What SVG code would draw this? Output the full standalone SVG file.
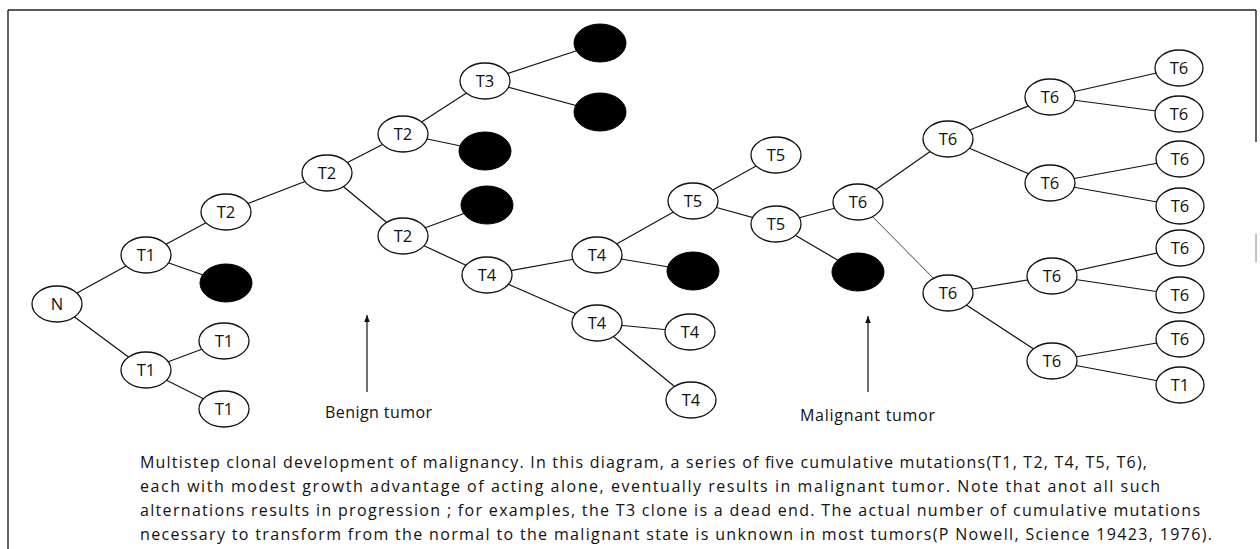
<svg xmlns="http://www.w3.org/2000/svg" width="1260" height="549" viewBox="0 0 1260 549">
<style>
.node ellipse{fill:#fff;stroke:#111;stroke-width:1.3}
.dead ellipse{fill:#000;stroke:#000;stroke-width:1}
.node text{font-family:"Open Sans","Lato","DejaVu Sans",sans-serif;font-size:16.5px;text-anchor:middle;fill:#111}
.edges line{stroke:#111;stroke-width:1.2}
.frame{stroke:#222;stroke-width:1.4;fill:none}
.lbl{font-family:"Open Sans","Lato","DejaVu Sans",sans-serif;font-size:16px;fill:#111}
.cap{font-family:"Open Sans","Lato","DejaVu Sans",sans-serif;font-size:16px;fill:#111}
.arrow{stroke:#111;stroke-width:1.3}
</style>
<defs>
<marker id="ah" viewBox="0 0 10 8" refX="10" refY="4" markerWidth="7" markerHeight="6" markerUnits="userSpaceOnUse" orient="auto">
<path d="M0,0 L10,4 L0,8 z" fill="#111"/>
</marker>
</defs>
<rect width="1260" height="549" fill="#fff"/>
<g id="frame">
<line class="frame" x1="8" y1="10" x2="1256" y2="10"/>
<line class="frame" x1="8" y1="10" x2="8" y2="549"/>
<line class="frame" x1="1256" y1="10" x2="1256" y2="142"/>
<line x1="1256" y1="234" x2="1256" y2="262" stroke="#999" stroke-width="1.2"/>
</g>
<g id="connectors" class="edges">
<line x1="57" y1="304" x2="146" y2="255"/>
<line x1="57" y1="304" x2="146" y2="370"/>
<line x1="146" y1="255" x2="226" y2="212"/>
<line x1="146" y1="255" x2="226" y2="283"/>
<line x1="146" y1="370" x2="224" y2="341"/>
<line x1="146" y1="370" x2="224" y2="409"/>
<line x1="226" y1="212" x2="327" y2="173"/>
<line x1="327" y1="173" x2="403" y2="134"/>
<line x1="327" y1="173" x2="403" y2="236"/>
<line x1="403" y1="134" x2="485" y2="81"/>
<line x1="403" y1="134" x2="485" y2="151"/>
<line x1="485" y1="81" x2="600" y2="43"/>
<line x1="485" y1="81" x2="600" y2="112"/>
<line x1="403" y1="236" x2="487" y2="205"/>
<line x1="403" y1="236" x2="487" y2="275"/>
<line x1="487" y1="275" x2="597" y2="255"/>
<line x1="487" y1="275" x2="597" y2="323"/>
<line x1="597" y1="255" x2="693" y2="201"/>
<line x1="597" y1="255" x2="693" y2="271"/>
<line x1="597" y1="323" x2="690" y2="332"/>
<line x1="597" y1="323" x2="691" y2="400"/>
<line x1="693" y1="201" x2="776" y2="155"/>
<line x1="693" y1="201" x2="776" y2="224"/>
<line x1="776" y1="224" x2="858" y2="202"/>
<line x1="776" y1="224" x2="858" y2="272"/>
<line x1="858" y1="202" x2="948" y2="139"/>
<line x1="858" y1="202" x2="948" y2="293" style="stroke-width:0.8"/>
<line x1="948" y1="139" x2="1050" y2="97"/>
<line x1="948" y1="139" x2="1050" y2="183"/>
<line x1="948" y1="293" x2="1052" y2="276"/>
<line x1="948" y1="293" x2="1052" y2="361"/>
<line x1="1050" y1="97" x2="1179" y2="68"/>
<line x1="1050" y1="97" x2="1179" y2="114"/>
<line x1="1050" y1="183" x2="1180" y2="159"/>
<line x1="1050" y1="183" x2="1180" y2="206"/>
<line x1="1052" y1="276" x2="1180" y2="248"/>
<line x1="1052" y1="276" x2="1180" y2="295"/>
<line x1="1052" y1="361" x2="1180" y2="339"/>
<line x1="1052" y1="361" x2="1180" y2="385"/>
<line class="arrow" x1="367" y1="392" x2="367" y2="315" marker-end="url(#ah)"/>
<line class="arrow" x1="868" y1="392" x2="868" y2="316" marker-end="url(#ah)"/>
</g>
<g id="N" class="node"><ellipse cx="57" cy="304" rx="25" ry="18"/><text x="57" y="310">N</text></g>
<g id="T1a" class="node"><ellipse cx="146" cy="255" rx="25" ry="18"/><text x="146" y="261">T1</text></g>
<g id="T1b" class="node"><ellipse cx="146" cy="370" rx="25" ry="18"/><text x="146" y="376">T1</text></g>
<g id="D0" class="node dead"><ellipse cx="226" cy="283" rx="26" ry="19"/></g>
<g id="T1c" class="node"><ellipse cx="224" cy="341" rx="25" ry="18"/><text x="224" y="347">T1</text></g>
<g id="T1d" class="node"><ellipse cx="224" cy="409" rx="25" ry="18"/><text x="224" y="415">T1</text></g>
<g id="T2a" class="node"><ellipse cx="226" cy="212" rx="25" ry="18"/><text x="226" y="218">T2</text></g>
<g id="T2b" class="node"><ellipse cx="327" cy="173" rx="25" ry="18"/><text x="327" y="179">T2</text></g>
<g id="T2c" class="node"><ellipse cx="403" cy="134" rx="25" ry="18"/><text x="403" y="140">T2</text></g>
<g id="T2d" class="node"><ellipse cx="403" cy="236" rx="25" ry="18"/><text x="403" y="242">T2</text></g>
<g id="T3" class="node"><ellipse cx="485" cy="81" rx="25" ry="18"/><text x="485" y="87">T3</text></g>
<g id="D1" class="node dead"><ellipse cx="600" cy="43" rx="26" ry="19"/></g>
<g id="D2" class="node dead"><ellipse cx="600" cy="112" rx="26" ry="19"/></g>
<g id="D3" class="node dead"><ellipse cx="485" cy="151" rx="26" ry="19"/></g>
<g id="D4" class="node dead"><ellipse cx="487" cy="205" rx="26" ry="19"/></g>
<g id="T4a" class="node"><ellipse cx="487" cy="275" rx="25" ry="18"/><text x="487" y="281">T4</text></g>
<g id="T4b" class="node"><ellipse cx="597" cy="255" rx="25" ry="18"/><text x="597" y="261">T4</text></g>
<g id="T4c" class="node"><ellipse cx="597" cy="323" rx="25" ry="18"/><text x="597" y="329">T4</text></g>
<g id="T4d" class="node"><ellipse cx="690" cy="332" rx="25" ry="18"/><text x="690" y="338">T4</text></g>
<g id="T4e" class="node"><ellipse cx="691" cy="400" rx="25" ry="18"/><text x="691" y="406">T4</text></g>
<g id="D5" class="node dead"><ellipse cx="693" cy="271" rx="26" ry="19"/></g>
<g id="T5a" class="node"><ellipse cx="693" cy="201" rx="25" ry="18"/><text x="693" y="207">T5</text></g>
<g id="T5b" class="node"><ellipse cx="776" cy="155" rx="25" ry="18"/><text x="776" y="161">T5</text></g>
<g id="T5c" class="node"><ellipse cx="776" cy="224" rx="25" ry="18"/><text x="776" y="230">T5</text></g>
<g id="D6" class="node dead"><ellipse cx="858" cy="272" rx="26" ry="19"/></g>
<g id="T6a" class="node"><ellipse cx="858" cy="202" rx="25" ry="18"/><text x="858" y="208">T6</text></g>
<g id="T6b" class="node"><ellipse cx="948" cy="139" rx="25" ry="18"/><text x="948" y="145">T6</text></g>
<g id="T6c" class="node"><ellipse cx="948" cy="293" rx="25" ry="18"/><text x="948" y="299">T6</text></g>
<g id="T6d" class="node"><ellipse cx="1050" cy="97" rx="25" ry="18"/><text x="1050" y="103">T6</text></g>
<g id="T6e" class="node"><ellipse cx="1050" cy="183" rx="25" ry="18"/><text x="1050" y="189">T6</text></g>
<g id="T6f" class="node"><ellipse cx="1052" cy="276" rx="25" ry="18"/><text x="1052" y="282">T6</text></g>
<g id="T6g" class="node"><ellipse cx="1052" cy="361" rx="25" ry="18"/><text x="1052" y="367">T6</text></g>
<g id="L1" class="node"><ellipse cx="1179" cy="68" rx="24" ry="18"/><text x="1179" y="74">T6</text></g>
<g id="L2" class="node"><ellipse cx="1179" cy="114" rx="24" ry="18"/><text x="1179" y="120">T6</text></g>
<g id="L3" class="node"><ellipse cx="1180" cy="159" rx="24" ry="18"/><text x="1180" y="165">T6</text></g>
<g id="L4" class="node"><ellipse cx="1180" cy="206" rx="24" ry="18"/><text x="1180" y="212">T6</text></g>
<g id="L5" class="node"><ellipse cx="1180" cy="248" rx="24" ry="18"/><text x="1180" y="254">T6</text></g>
<g id="L6" class="node"><ellipse cx="1180" cy="295" rx="24" ry="18"/><text x="1180" y="301">T6</text></g>
<g id="L7" class="node"><ellipse cx="1180" cy="339" rx="24" ry="18"/><text x="1180" y="345">T6</text></g>
<g id="L8" class="node"><ellipse cx="1180" cy="385" rx="24" ry="18"/><text x="1180" y="391">T1</text></g>
<g id="labels">
<text class="lbl" x="325" y="418" textLength="107" lengthAdjust="spacing">Benign  tumor</text>
<text class="lbl" x="800" y="421" textLength="135" lengthAdjust="spacing">Malignant  tumor</text>
</g>
<g id="caption" class="cap">
<text x="140" y="468" textLength="1007" lengthAdjust="spacing">Multistep clonal development of malignancy. In this diagram, a series of five cumulative mutations(T1, T2, T4, T5, T6),</text>
<text x="140" y="492" textLength="1020" lengthAdjust="spacing">each with modest growth advantage of acting alone, eventually results in malignant tumor. Note that anot all such</text>
<text x="140" y="516" textLength="1060" lengthAdjust="spacing">alternations results in progression ; for examples, the T3 clone is a dead end. The actual number of cumulative mutations</text>
<text x="140" y="540" textLength="1072" lengthAdjust="spacing">necessary to transform from the normal to the malignant state is unknown in most tumors(P Nowell, Science 19423, 1976).</text>
</g>
</svg>
